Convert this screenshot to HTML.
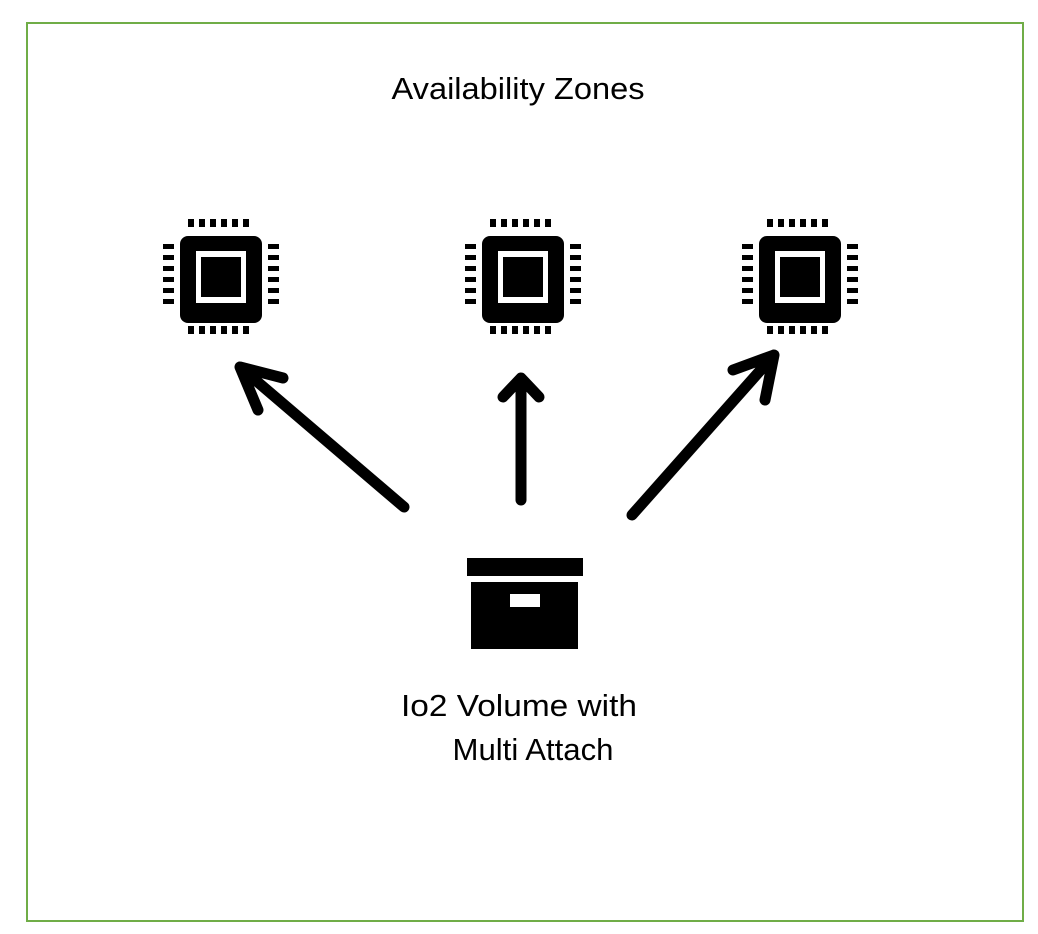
<!DOCTYPE html>
<html><head><meta charset="utf-8"><style>
html,body{margin:0;padding:0;background:#fff;width:1038px;height:934px;overflow:hidden}
</style></head><body>
<svg width="1038" height="934" viewBox="0 0 1038 934" xmlns="http://www.w3.org/2000/svg">
<defs>
<g id="chip">
  <rect x="180" y="236" width="82" height="87" rx="8" fill="#000"/>
  <rect x="196" y="251" width="50" height="52" fill="#fff"/>
  <rect x="201" y="257" width="40" height="40" fill="#000"/>
  <g fill="#000">
    <rect x="188" y="219" width="6" height="8"/><rect x="199" y="219" width="6" height="8"/><rect x="210" y="219" width="6" height="8"/><rect x="221" y="219" width="6" height="8"/><rect x="232" y="219" width="6" height="8"/><rect x="243" y="219" width="6" height="8"/>
    <rect x="188" y="326" width="6" height="8"/><rect x="199" y="326" width="6" height="8"/><rect x="210" y="326" width="6" height="8"/><rect x="221" y="326" width="6" height="8"/><rect x="232" y="326" width="6" height="8"/><rect x="243" y="326" width="6" height="8"/>
    <rect x="163" y="244" width="11" height="5"/><rect x="163" y="255" width="11" height="5"/><rect x="163" y="266" width="11" height="5"/><rect x="163" y="277" width="11" height="5"/><rect x="163" y="288" width="11" height="5"/><rect x="163" y="299" width="11" height="5"/>
    <rect x="268" y="244" width="11" height="5"/><rect x="268" y="255" width="11" height="5"/><rect x="268" y="266" width="11" height="5"/><rect x="268" y="277" width="11" height="5"/><rect x="268" y="288" width="11" height="5"/><rect x="268" y="299" width="11" height="5"/>
  </g>
</g>
</defs>
<rect x="27" y="23" width="996" height="898" fill="none" stroke="#70ad47" stroke-width="2"/>
<text x="518" y="99" font-family="Liberation Sans, sans-serif" font-size="31" text-anchor="middle" textLength="253" lengthAdjust="spacingAndGlyphs">Availability Zones</text>
<use href="#chip"/>
<use href="#chip" x="302"/>
<use href="#chip" x="579"/>
<g stroke="#000" stroke-width="11" stroke-linecap="round" stroke-linejoin="round" fill="none">
  <path d="M404 507 L240 367 M283 378 L240 367 L258 410"/>
  <path d="M521 500 L521 378 M503 397 L521 378 L539 397"/>
  <path d="M632 515 L774 355 M733 370 L774 355 L765 400"/>
</g>
<rect x="467" y="558" width="116" height="18" fill="#000"/>
<rect x="471" y="582" width="107" height="67" fill="#000"/>
<rect x="510" y="594" width="30" height="13" fill="#fff"/>
<text x="519" y="716" font-family="Liberation Sans, sans-serif" font-size="31" text-anchor="middle" textLength="236" lengthAdjust="spacingAndGlyphs">Io2 Volume with</text>
<text x="533" y="760" font-family="Liberation Sans, sans-serif" font-size="31" text-anchor="middle" textLength="161" lengthAdjust="spacingAndGlyphs">Multi Attach</text>
</svg>
</body></html>
